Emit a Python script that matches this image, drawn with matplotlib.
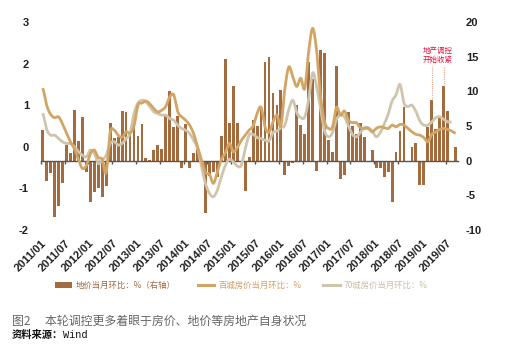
import matplotlib
matplotlib.use("Agg")
import matplotlib.pyplot as plt
import matplotlib.transforms as mtransforms
from matplotlib.patches import Patch
from matplotlib.lines import Line2D
import numpy as np

# monthly data, 2011/01 .. 2019/09
LAND = [4.4, -2.9, -1.8, -8.1, -6.6, -3.2, 2.3, 1.1, 7.3, 2.9, 6.3, -1.6,
        -6.0, -4.5, -3.9, -5.2, -3.6, 5.5, 3.3, 3.4, 7.2, 7.0, 3.9, 4.8,
        3.6, 5.3, 0.4, 0.1, 1.5, 2.2, 1.7, 6.8, 10.0, 4.8, 6.5, -1.0,
        5.3, -1.1, 1.1, 1.7, 0.0, -7.5, -2.2, -1.6, -2.3, 3.6, 14.7, 5.5,
        10.8, 5.5, 0.0, -4.4, 0.6, 5.8, 5.0, 7.8, 14.3, 14.9, 9.7, 8.0,
        10.2, -2.1, -0.7, -0.4, 8.1, 5.2, 3.9, 14.3, 11.8, -1.5, 15.9, 15.6,
        3.0, 1.2, 13.7, -2.6, -2.0, 7.0, 5.0, 3.8, 5.4, 3.4, 0.0, 1.6,
        -1.1, -1.1, -2.3, -1.6, -5.9, 1.2, 4.3, 7.7, -0.2, 2.0, 2.5, -3.5,
        -3.5, 4.9, 8.8, 4.5, 6.2, 10.7, 7.1, 0.0, 2.0]

HOUSE100 = [1.41, 1.00, 0.78, 0.70, 0.72, 0.55, 0.33, 0.12, -0.05, -0.30, -0.52, -0.45,
            -0.17, -0.08, -0.26, -0.30, -0.62, 0.35, 0.40, 0.28, 0.23, 0.36, 0.33, 0.50,
            1.00, 1.05, 1.10, 1.03, 0.92, 0.84, 0.88, 0.97, 1.20, 1.25, 0.85, 0.72,
            0.64, 0.52, 0.32, 0.00, -0.32, -0.62, -0.66, -0.88, -0.60, -0.30, -0.15, 0.08,
            -0.12, -0.02, 0.15, 0.28, 0.40, 0.50, 0.80, 0.95, 0.48, 0.35, 0.60, 0.76,
            0.50, 1.40, 1.92, 1.68, 1.45, 1.65, 1.40, 2.30, 2.85, 2.30, 1.20, 0.60,
            0.44, 0.48, 0.95, 0.76, 0.86, 0.64, 0.58, 0.58, 0.46, 0.44, 0.44, 0.36,
            0.44, 0.48, 0.46, 0.44, 0.52, 0.48, 0.54, 0.52, 0.44, 0.36, 0.30, 0.28,
            0.22, 0.12, 0.30, 0.36, 0.42, 0.44, 0.42, 0.38, 0.32]

HOUSE70 = [0.81, 0.42, 0.28, 0.28, 0.20, 0.12, 0.08, 0.08, 0.00, -0.12, -0.20, -0.24,
           -0.08, -0.16, -0.40, -0.32, -0.20, 0.08, 0.12, 0.04, 0.08, 0.20, 0.32, 0.80,
           1.05, 1.12, 1.08, 0.96, 0.84, 0.80, 0.76, 0.76, 0.68, 0.64, 0.52, 0.44,
           0.40, 0.32, 0.16, -0.04, -0.48, -0.88, -1.12, -1.20, -1.04, -0.72, -0.45, -0.30,
           -0.36, -0.46, -0.45, -0.05, 0.28, 0.30, 0.22, 0.20, 0.16, 0.14, 0.34, 0.38,
           0.46, 0.52, 0.90, 1.12, 0.82, 0.70, 0.72, 1.15, 1.78, 1.44, 0.90, 0.38,
           0.24, 0.34, 0.66, 0.76, 0.72, 0.50, 0.30, 0.24, 0.34, 0.46, 0.46, 0.38,
           0.24, 0.34, 0.54, 0.78, 1.10, 1.25, 1.50, 1.05, 0.97, 1.00, 0.85, 0.62,
           0.52, 0.52, 0.60, 0.70, 0.72, 0.66, 0.60, 0.60]

TICK_LABELS = ["2011/01", "2011/07", "2012/01", "2012/07", "2013/01", "2013/07",
               "2014/01", "2014/07", "2015/01", "2015/07", "2016/01", "2016/07",
               "2017/01", "2017/07", "2018/01", "2018/07", "2019/01", "2019/07"]

LEFT_TICKS = [-2, -1, 0, 1, 2, 3]
RIGHT_TICKS = [-10, -5, 0, 5, 10, 15, 20]
MARKED = [98, 101]  # months flagged by the annotation

LABELS = ["地价当月环比：%（右轴）", "百城房价当月环比：%", "70城房价当月环比：%"]
NOTE = "地产调控\n开始收紧"
CAPTION = "图2\u3000 本轮调控更多着眼于房价、地价等房地产自身状况"

barColor = "#A36B3E"
h100Color = "#D2A565"
h70Color = "#CEC5AC"
numFont = ["Liberation Sans", "DejaVu Sans"]
cjkFont = ["Noto Sans CJK SC", "DejaVu Sans"]


def smooth(y, n=10):
    # catmull-rom curve through the monthly points
    y = np.asarray(y, dtype=float)
    p = np.concatenate([[y[0]], y, [y[-1]]])
    xs, ys = [], []
    t = np.linspace(0, 1, n, endpoint=False)
    for i in range(len(y) - 1):
        p0, p1, p2, p3 = p[i], p[i + 1], p[i + 2], p[i + 3]
        seg = 0.5 * (2 * p1 + (-p0 + p2) * t + (2 * p0 - 5 * p1 + 4 * p2 - p3) * t ** 2
                     + (-p0 + 3 * p1 - 3 * p2 + p3) * t ** 3)
        xs.extend(i + t)
        ys.extend(seg)
    xs.append(len(y) - 1)
    ys.append(y[-1])
    return np.array(xs), np.array(ys)


fig = plt.figure(figsize=(5.13, 3.62), dpi=100)
axBar = fig.add_axes([40.7 / 513, 1 - 230 / 362, (457.6 - 40.7) / 513, 208 / 362])
axLine = axBar.twinx()

months = np.arange(len(LAND))
axBar.bar(months, LAND, width=0.72, color=barColor, zorder=2)
axBar.set_xlim(-0.5, len(LAND) - 0.5)
axBar.set_ylim(-10, 20)

x, y = smooth(HOUSE70)
axLine.plot(x, y, color=h70Color, lw=2.0, solid_capstyle="butt", zorder=3)
x, y = smooth(HOUSE100)
axLine.plot(x, y, color=h100Color, lw=2.0, solid_capstyle="butt", zorder=4)
axLine.set_ylim(-2, 3)

# bars on the right axis, lines on the left
axBar.yaxis.tick_right()
axLine.yaxis.tick_left()
axBar.set_yticks(RIGHT_TICKS)
axBar.set_yticklabels([str(v) for v in RIGHT_TICKS])
axLine.set_yticks(LEFT_TICKS)
axLine.set_yticklabels([str(v) for v in LEFT_TICKS])
axBar.tick_params(axis="y", length=0, pad=6)
axLine.tick_params(axis="y", length=0, pad=8.5)
for lab in axBar.get_yticklabels() + axLine.get_yticklabels():
    lab.set_fontfamily(numFont)
    lab.set_fontweight("bold")
    lab.set_fontsize(8)
    lab.set_color("#222222")

for a in (axBar, axLine):
    for s in a.spines.values():
        s.set_visible(False)
axBar.spines["bottom"].set_visible(True)
axBar.spines["bottom"].set_position(("data", 0))
axBar.spines["bottom"].set_color("#555555")
axBar.spines["bottom"].set_linewidth(1.0)
axBar.spines["bottom"].set_zorder(5)
tickPos = [-0.5 + 6 * k for k in range(len(TICK_LABELS))]
axBar.set_xticks(tickPos)
axBar.set_xticklabels([])
axBar.tick_params(axis="x", direction="out", length=2.5, width=1.0, color="#555555")

trans = mtransforms.blended_transform_factory(axBar.transData, axBar.transAxes)
for pos, lab in zip(tickPos, TICK_LABELS):
    axBar.text(pos + 1.0, -0.055, lab, transform=trans, rotation=45, ha="right",
               va="center", rotation_mode="anchor", fontsize=8, fontweight="bold",
               family=numFont, color="#222222")

# annotation
for m in MARKED:
    axBar.plot([m, m], [LAND[m], 13.6], color="#EBA58A", lw=0.8,
               linestyle=(0, (1, 1)), zorder=6)
axBar.text(97.5 + 2.0, 15.2, NOTE, ha="center", va="center", fontsize=5.4,
           color="#E3133F", family=cjkFont, linespacing=1.1, zorder=6)

# legend
handles = [Patch(facecolor=barColor, edgecolor="none"),
           Line2D([], [], color=h100Color, lw=2.2),
           Line2D([], [], color=h70Color, lw=2.2)]
leg = fig.legend(handles, LABELS, loc="center", bbox_to_anchor=(0.471, 1 - 285.5 / 362),
                 ncol=3, frameon=False, handlelength=2.0, handleheight=0.6,
                 handletextpad=0.5, columnspacing=2.6, prop={"family": cjkFont, "size": 6})
for t, c in zip(leg.get_texts(), ["#A06A40", "#D0A062", "#C9BEA6"]):
    t.set_color(c)

fig.text(12 / 513, 1 - 321 / 362, CAPTION, fontsize=8.6, color="#666666",
         family=cjkFont, fontweight="light", ha="left", va="center")
fig.text(12 / 513, 1 - 334.5 / 362, "资料来源：", fontsize=7.4, color="#111111",
         family=cjkFont, fontweight="bold", ha="left", va="center")
fig.text(63 / 513, 1 - 334.5 / 362, "Wind", fontsize=7.4, color="#111111",
         family=["Liberation Mono", "DejaVu Sans Mono"], ha="left", va="center")

fig.savefig("out.png", dpi=100)
